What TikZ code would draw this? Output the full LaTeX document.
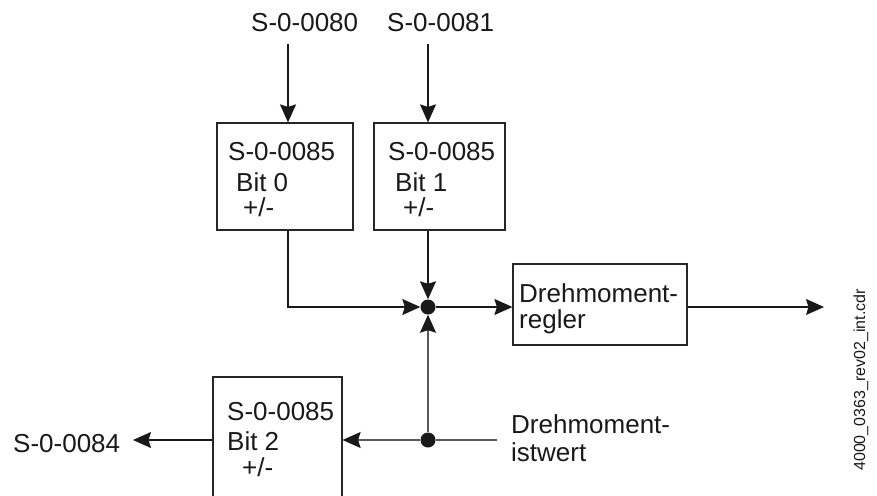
\documentclass[tikz,border=0pt]{standalone}
\usepackage{fontspec}
\setmainfont{Liberation Sans}
\usetikzlibrary{arrows.meta}
\tikzset{
  lbl/.style={anchor=base west, inner sep=0pt, font=\fontsize{26}{30}\selectfont, text=black!90},
  blk/.style={draw=black!85, line width=1.2pt, inner sep=0pt},
  tip/.style={-{Stealth[length=18pt,width=16pt,inset=2.5pt,color=black!90]}},
  arr/.style={draw=black!90, line width=1.2pt, tip},
  garr/.style={draw=black!65, line width=1.4pt, tip},
  gline/.style={draw=black!65, line width=1.4pt},
  dot/.style={circle, fill=black!90, inner sep=0pt, minimum size=15pt},
}
\begin{document}
\begin{tikzpicture}[x=1pt, y=-1pt]
\clip (0,0) rectangle (877,495);
\useasboundingbox (0,0) rectangle (877,495);

% parameter labels on top
\node[lbl] (p80) at (251,32) {S-0-0080};
\node[lbl] (p81) at (387,32) {S-0-0081};

% the three sign blocks
\node[blk, minimum width=136pt, minimum height=107pt] (b0) at (285,176.5) {};
\node[blk, minimum width=131pt, minimum height=107pt] (b1) at (439.5,176.5) {};
\node[blk, minimum width=129pt, minimum height=133pt] (b2) at (277.5,443.5) {};

\node[lbl] (b0a) at (228,160) {S-0-0085};
\node[lbl] (b0b) at (236,191) {Bit 0};
\node[lbl] (b0c) at (243,216) {+/-};
\node[lbl] (b1a) at (388,160) {S-0-0085};
\node[lbl] (b1b) at (395,191) {Bit 1};
\node[lbl] (b1c) at (403,216) {+/-};
\node[lbl] (b2a) at (227,420) {S-0-0085};
\node[lbl] (b2b) at (227,450) {Bit 2};
\node[lbl] (b2c) at (242,476) {+/-};

% torque controller
\node[blk, minimum width=174pt, minimum height=81pt] (reg) at (600,304.5) {};
\node[lbl] (rega) at (519,302) {Drehmoment-};
\node[lbl] (regb) at (519,328) {regler};

% actual torque input
\node[lbl] (ista) at (511,433) {Drehmoment-};
\node[lbl] (istb) at (511,461) {istwert};

% output parameter
\node[lbl] (p84) at (13,452) {S-0-0084};

% junctions
\node[dot] (j) at (428,307) {};
\node[dot] (j2) at (428,440) {};

% free ends
\coordinate (a80) at (288,44);
\coordinate (a81) at (428,44);
\coordinate (out) at (824,307);
\coordinate (ist) at (497,440);
\coordinate (a84) at (133,440);

% connectors
\draw[arr] (a80) -- (a80 |- b0.north);
\draw[arr] (a81) -- (a81 |- b1.north);
\draw[arr] (a80 |- b0.south) |- (j);
\draw[arr] (a81 |- b1.south) -- (j);
\draw[arr] (j) -- (j -| reg.west);
\draw[arr] (reg.east |- out) -- (out);
\draw[gline] (ist) -- (j2);
\draw[garr] (j2) -- (j);
\draw[garr] (j2) -- (j2 -| b2.east);
\draw[arr] (b2.west |- j2) -- (a84);

% drawing file name
\node[rotate=90, inner sep=0pt, font=\fontsize{16}{18}\selectfont, text=black!90] (fname) at (861,380) {4000\_0363\_rev02\_int.cdr};
\end{tikzpicture}
\end{document}
